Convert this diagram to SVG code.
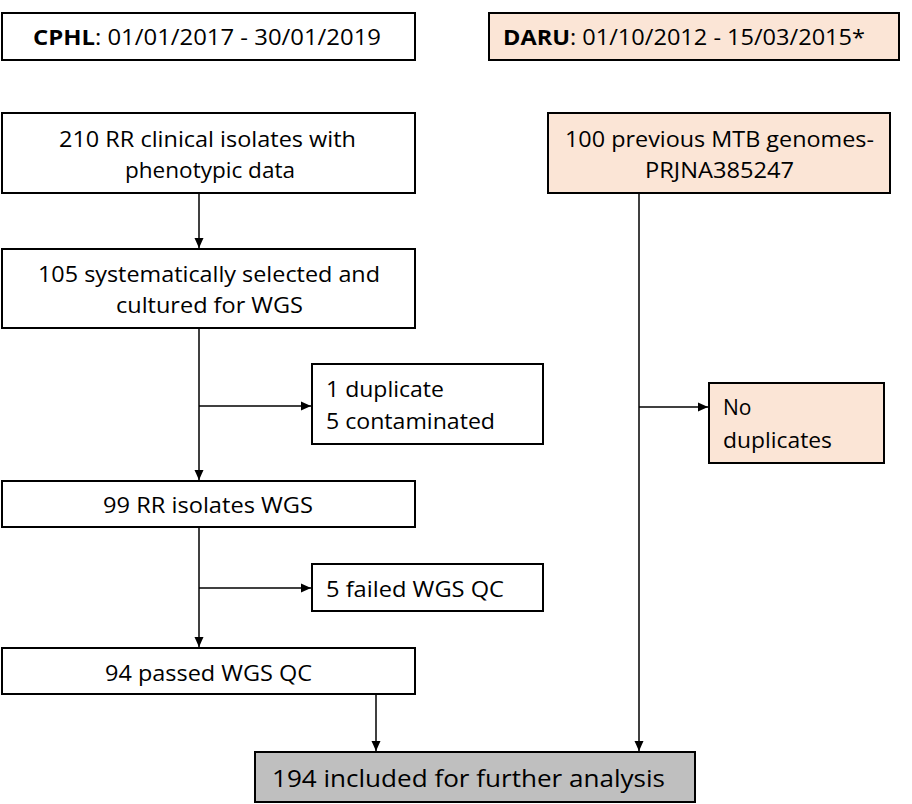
<svg xmlns="http://www.w3.org/2000/svg" width="912" height="804" viewBox="0 0 912 804">
<style>
text{font-family:"Open Sans","Noto Sans",sans-serif;font-size:21px;fill:#000}
.big{font-size:24px}
.box{fill:#fff;stroke:#000;stroke-width:2}
.peach{fill:#fbe5d6;stroke:#000;stroke-width:2}
.grey{fill:#bfbfbf;stroke:#000;stroke-width:2}
.ln{fill:none;stroke:#000;stroke-width:1.5}
</style>
<defs>
<marker id="ah" markerUnits="userSpaceOnUse" markerWidth="10" markerHeight="10" viewBox="0 0 10 10" refX="10" refY="5" orient="auto">
<path d="M0,0.5 L10,5 L0,9.5 Z" fill="#000"/>
</marker>
</defs>
<rect width="912" height="804" fill="#fff"/>
<g id="cphl"><rect class="box" x="2" y="13" width="413" height="47"/><text x="33" y="45" textLength="348" lengthAdjust="spacingAndGlyphs"><tspan font-weight="bold">CPHL</tspan>: 01/01/2017 - 30/01/2019</text></g>
<g id="daru"><rect class="peach" x="489" y="13" width="410" height="47"/><text x="503" y="45" textLength="362" lengthAdjust="spacingAndGlyphs"><tspan font-weight="bold">DARU</tspan>: 01/10/2012 - 15/03/2015*</text></g>
<g id="n210"><rect class="box" x="2" y="113" width="413" height="80"/><text x="59" y="147" textLength="297" lengthAdjust="spacingAndGlyphs">210 RR clinical isolates with</text><text x="125" y="178" textLength="170" lengthAdjust="spacingAndGlyphs">phenotypic data</text></g>
<g id="n100"><rect class="peach" x="548" y="113" width="342" height="80"/><text x="565" y="147" textLength="309" lengthAdjust="spacingAndGlyphs">100 previous MTB genomes-</text><text x="645" y="178" textLength="149" lengthAdjust="spacingAndGlyphs">PRJNA385247</text></g>
<g id="n105"><rect class="box" x="2" y="249" width="413" height="79"/><text x="38" y="282" textLength="342" lengthAdjust="spacingAndGlyphs">105 systematically selected and</text><text x="116" y="313" textLength="187" lengthAdjust="spacingAndGlyphs">cultured for WGS</text></g>
<g id="ndup"><rect class="box" x="312" y="364" width="231" height="80"/><text x="326" y="397" textLength="118" lengthAdjust="spacingAndGlyphs">1 duplicate</text><text x="326" y="429" textLength="169" lengthAdjust="spacingAndGlyphs">5 contaminated</text></g>
<g id="nnodup"><rect class="peach" x="709" y="383" width="175" height="80"/><text x="723" y="415">No</text><text x="723" y="448" textLength="109" lengthAdjust="spacingAndGlyphs">duplicates</text></g>
<g id="n99"><rect class="box" x="2" y="481" width="413" height="46"/><text x="103" y="513" textLength="210" lengthAdjust="spacingAndGlyphs">99 RR isolates WGS</text></g>
<g id="nfail"><rect class="box" x="312" y="564" width="231" height="47"/><text x="326" y="597" textLength="178" lengthAdjust="spacingAndGlyphs">5 failed WGS QC</text></g>
<g id="n94"><rect class="box" x="2" y="648" width="413" height="46"/><text x="105" y="681" textLength="207" lengthAdjust="spacingAndGlyphs">94 passed WGS QC</text></g>
<g id="n194"><rect class="grey" x="255" y="752" width="440" height="50"/><text class="big" x="272" y="787" textLength="393" lengthAdjust="spacingAndGlyphs">194 included for further analysis</text></g>
<g id="connectors">
<line class="ln" x1="199" y1="193" x2="199" y2="248" marker-end="url(#ah)"/>
<line class="ln" x1="199" y1="328" x2="199" y2="480" marker-end="url(#ah)"/>
<line class="ln" x1="199" y1="406" x2="311" y2="406" marker-end="url(#ah)"/>
<line class="ln" x1="199" y1="527" x2="199" y2="647" marker-end="url(#ah)"/>
<line class="ln" x1="199" y1="588" x2="311" y2="588" marker-end="url(#ah)"/>
<line class="ln" x1="376" y1="694" x2="376" y2="751" marker-end="url(#ah)"/>
<line class="ln" x1="639" y1="193" x2="639" y2="751" marker-end="url(#ah)"/>
<line class="ln" x1="639" y1="407" x2="708" y2="407" marker-end="url(#ah)"/>
</g>
</svg>
